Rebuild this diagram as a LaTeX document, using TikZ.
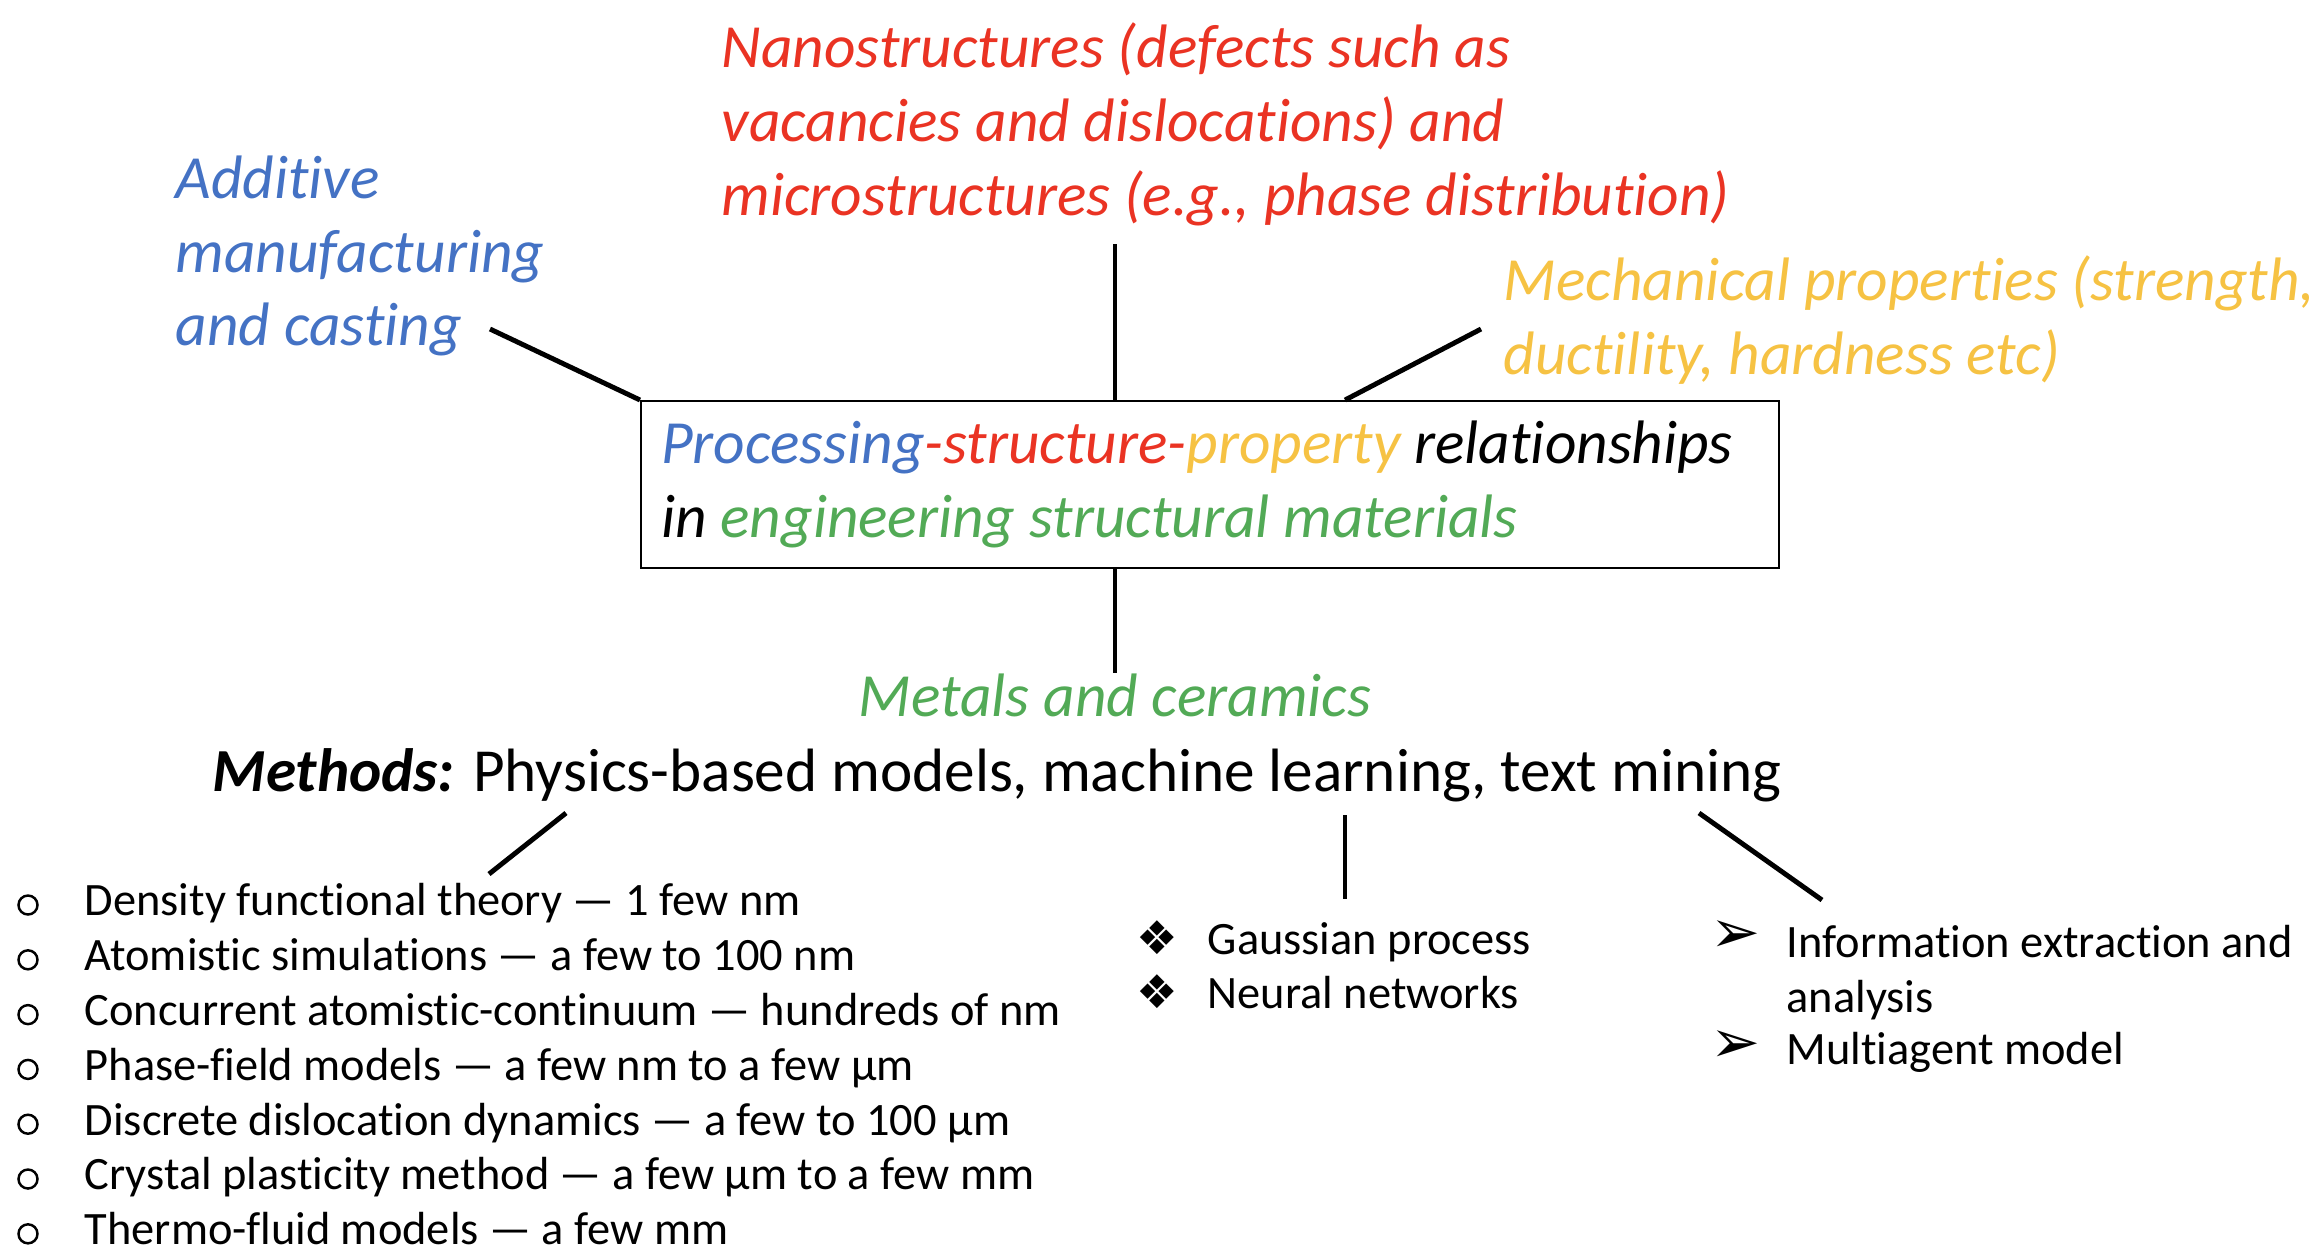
\documentclass[tikz,border=0pt]{standalone}
\usepackage{fontspec}
\setmainfont{Carlito}[Ligatures=NoCommon]
\newfontfamily\symfont{DejaVu Sans}
\usetikzlibrary{positioning}
\definecolor{pblue}{RGB}{68,114,196}
\definecolor{sred}{RGB}{234,51,35}
\definecolor{pgold}{RGB}{246,194,67}
\definecolor{mgreen}{RGB}{82,170,86}

\begin{document}
\begin{tikzpicture}[
  x=0.01cm, y=-0.01cm,
  toptext/.style={
    anchor=west,
    inner sep=0pt,
    align=left,
    font=\fontsize{17.45}{21}\selectfont\itshape
  },
  psbox/.style={
    draw,
    line width=0.6pt,
    anchor=north west,
    minimum width=11.37cm,
    minimum height=1.67cm,
    text width=10.97cm,
    inner xsep=0.2cm,
    inner ysep=0pt,
    align=flush left,
    font=\fontsize{17.45}{21}\selectfont\itshape
  },
  link/.style={line width=1.4pt},
  listitem/.style={
    anchor=west,
    inner sep=0pt,
    text height=0.7em,
    text depth=0.2em,
    font=\fontsize{13.2}{15.6}\selectfont
  },
  bul/.style={listitem, anchor=center},
  ring/.style={circle, draw, line width=0.7pt, inner sep=0pt, minimum size=0.19cm}
]
\useasboundingbox (0,0) rectangle (2322,1256);

% labels round the central box
\node[toptext, text=pblue] (additive) at (175,256) {Additive\\manufacturing\\and casting};
\node[toptext, text=sred] (nano) at (721,124) {Nanostructures (defects such as\\vacancies and dislocations) and\\microstructures (e.g., phase distribution)};
\node[toptext, text=pgold] (mech) at (1503,320) {Mechanical properties (strength,\\ductility, hardness etc)};

\node[psbox] (psp) at (640,400) {\textcolor{pblue}{Processing}\textcolor{sred}{-structure-}\textcolor{pgold}{property} relationships\\in \textcolor{mgreen}{engineering structural materials}};

\node[toptext, anchor=center, text=mgreen] (metals) at (1115,695) {Metals and ceramics};
\node[toptext, anchor=center, font=\fontsize{17.4}{21}\selectfont] (methods) at (997,775) {{\bfseries\itshape Methods:} Physics-based models, machine learning, text mining};

\coordinate (addend) at (490,329);
\coordinate (nanoend) at (1115,244);
\coordinate (mechend) at (1481,329);
\coordinate (mechfoot) at (1345,400);
\draw[link] (addend) -- (psp.north west);
\draw[link] (nanoend) -- (nanoend |- psp.north);
\draw[link] (mechend) -- (mechfoot);
\draw[link] (metals.north |- psp.south) -- (metals.north);

% methods branches
\coordinate (physup) at (566,813);
\coordinate (physdn) at (489,874);
\coordinate (mlup) at (1345,815);
\coordinate (mldn) at (1345,899);
\coordinate (tmup) at (1699,813);
\coordinate (tmdn) at (1822,900);
\draw[link] (physup) -- (physdn);
\draw[link] (mlup) -- (mldn);
\draw[link] (tmup) -- (tmdn);

% physics-based models
\foreach \txt [count=\i] in {
  Density functional theory — 1 few nm,
  Atomistic simulations — a few to 100 nm,
  Concurrent atomistic-continuum — hundreds of nm,
  Phase-field models — a few nm to a few µm,
  Discrete dislocation dynamics — a few to 100 µm,
  Crystal plasticity method — a few µm to a few mm,
  Thermo-fluid models — a few mm}{
  \node[ring] (pb\i) at (28,{905+54.8*(\i-1)}) {};
  \node[listitem] (phys\i) at (84,{907+54.8*(\i-1)}) {\txt};
}

% machine learning
\node[bul] (mb1) at (1157,946) {\symfont ❖};
\node[bul] (mb2) at (1157,1000) {\symfont ❖};
\node[listitem] (gp) at (1207,946) {Gaussian process};
\node[listitem] (nn) at (1207,1000) {Neural networks};

% text mining
\node[bul, font=\fontsize{17}{17}\selectfont] (tb1) at (1736,944) {\symfont ➢};
\node[bul, font=\fontsize{17}{17}\selectfont] (tb2) at (1736,1054) {\symfont ➢};
\node[listitem, text height=, text depth=, align=left] (info) at (1786,973) {Information extraction and\\analysis};
\node[listitem] (agent) at (1786,1056) {Multiagent model};

\end{tikzpicture}
\end{document}
